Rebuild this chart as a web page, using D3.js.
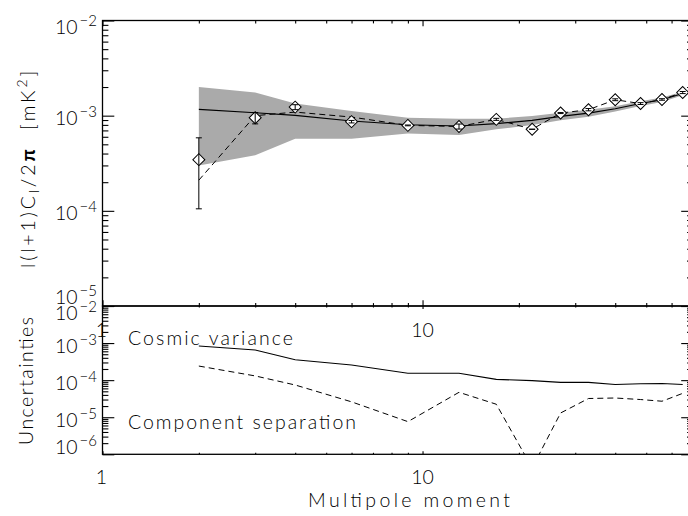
<!DOCTYPE html>
<html>
<head>
<meta charset="utf-8">
<script src="https://cdn.jsdelivr.net/npm/d3@7"></script>
<style>
  body { margin: 0; background: #fff; }
  svg { display: block; }
  text { font-family: Lato, "Liberation Sans", sans-serif; font-weight: 300; fill: #000; }
</style>
</head>
<body>
<svg id="chart" width="688" height="516"></svg>
<script>
// Multipole bins
const ells = [2, 3, 4, 6, 9, 13, 17, 22, 27, 33, 40, 48, 56, 65];
// Recovered power spectrum l(l+1)C_l/2pi [mK^2] (diamonds)
const recovered = [3.45e-4, 9.5e-4, 1.23e-3, 8.65e-4, 7.9e-4, 7.7e-4, 9.15e-4, 7.2e-4, 1.065e-3, 1.156e-3, 1.47e-3, 1.34e-3, 1.48e-3, 1.75e-3];
// Input sky spectrum (dashed)
const inputSpectrum = [2.1e-4, 1.0e-3, 1.09e-3, 9.67e-4, 7.9e-4, 7.7e-4, 9.15e-4, 7.2e-4, 1.065e-3, 1.156e-3, 1.47e-3, 1.34e-3, 1.48e-3, 1.75e-3];
// Theoretical model (solid) and its cosmic-variance envelope (grey band)
const modelElls = [2, 3, 4, 6, 9, 13, 17, 22, 27, 33, 40, 48, 56, 65, 70];
const model     = [1.165e-3, 1.075e-3, 1.007e-3, 8.78e-4, 8.04e-4, 7.78e-4, 8.24e-4, 8.93e-4, 9.83e-4, 1.064e-3, 1.18e-3, 1.34e-3, 1.47e-3, 1.71e-3, 1.84e-3];
const bandHigh  = [2.0e-3, 1.75e-3, 1.34e-3, 1.12e-3, 9.5e-4, 9.3e-4, 9.29e-4, 9.9e-4, 1.07e-3, 1.151e-3, 1.256e-3, 1.42e-3, 1.55e-3, 1.786e-3, 1.92e-3];
const bandLow   = [3.0e-4, 3.83e-4, 5.73e-4, 5.73e-4, 6.5e-4, 6.28e-4, 7.19e-4, 7.96e-4, 8.96e-4, 9.77e-4, 1.104e-3, 1.26e-3, 1.39e-3, 1.634e-3, 1.76e-3];
// Uncertainty budget per bin
const cosmicVariance = [8.3e-4, 6.5e-4, 3.56e-4, 2.57e-4, 1.53e-4, 1.53e-4, 1.05e-4, 9.7e-5, 8.7e-5, 8.7e-5, 7.6e-5, 8.0e-5, 8.1e-5, 7.6e-5];
const componentSeparation = [2.4e-4, 1.3e-4, 7.4e-5, 2.6e-5, 7.6e-6, 4.7e-5, 2.24e-5, 4.3e-7, 1.3e-5, 3.2e-5, 3.3e-5, 3.0e-5, 2.7e-5, 4.4e-5];

// Axis ticks
const xMajorTicks = [1, 10];
const xMinorTicks = [2, 3, 4, 5, 6, 7, 8, 9, 20, 30, 40, 50, 60, 70];
const xTickLabels = ["1", "10"];
const topDecades = [1e-5, 1e-4, 1e-3, 1e-2];
const bottomDecades = [1e-6, 1e-5, 1e-4, 1e-3, 1e-2];

const texts = {
  xTitle: "Multipole moment",
  bottomTitle: "Uncertainties",
  cv: "Cosmic variance",
  cs: "Component separation"
};

const svg = d3.select("#chart");
svg.append("rect").attr("width", 688).attr("height", 516).attr("fill", "#fff");

const x = d3.scaleLog().domain([1, 70]).range([102.5, 693]);
const yTop = d3.scaleLog().domain([1e-5, 1e-2]).range([306, 20.5]);
const yBot = d3.scaleLog().domain([1e-6, 1e-2]).range([454.3, 306]);

const defs = svg.append("defs");
function clip(id, ys) {
  const [x0, x1] = x.range();
  const [yb, yt] = ys.range();
  defs.append("clipPath").attr("id", id).append("rect")
    .attr("x", x0).attr("y", yt).attr("width", x1 - x0).attr("height", yb - yt);
}
clip("clipTop", yTop);
clip("clipBot", yBot);

// ---------- upper panel: power spectrum ----------
const specG = svg.append("g").attr("clip-path", "url(#clipTop)");
const modelRows = modelElls.map((l, i) => ({ l, m: model[i], hi: bandHigh[i], lo: bandLow[i] }));

specG.append("path").datum(modelRows)
  .attr("fill", "#aaaaaa")
  .attr("d", d3.area().x(d => x(d.l)).y0(d => yTop(d.lo)).y1(d => yTop(d.hi)));

specG.append("path").datum(modelRows)
  .attr("fill", "none").attr("stroke", "#000").attr("stroke-width", 1.1)
  .attr("d", d3.line().x(d => x(d.l)).y(d => yTop(d.m)));

const rows = ells.map((l, i) => ({ l, v: recovered[i], inp: inputSpectrum[i], err: componentSeparation[i], cv: cosmicVariance[i] }));

specG.append("path").datum(rows)
  .attr("fill", "none").attr("stroke", "#000").attr("stroke-width", 1)
  .attr("stroke-dasharray", "6,4")
  .attr("d", d3.line().x(d => x(d.l)).y(d => yTop(d.inp)));

specG.selectAll(".pt").data(rows).join("path")
  .attr("class", "pt")
  .attr("d", d3.symbol(d3.symbolSquare, 72))
  .attr("transform", d => `translate(${x(d.l)},${yTop(d.v)}) rotate(45)`)
  .attr("fill", "#fff").attr("stroke", "#000").attr("stroke-width", 1);

const eb = specG.selectAll(".eb").data(rows).join("g").attr("class", "eb")
  .attr("stroke", "#000").attr("stroke-width", 1);
eb.append("line")
  .attr("x1", d => x(d.l)).attr("x2", d => x(d.l))
  .attr("y1", d => yTop(d.v + d.err)).attr("y2", d => yTop(Math.max(d.v - d.err, 1e-6)));
eb.append("line")
  .attr("x1", d => x(d.l) - 3).attr("x2", d => x(d.l) + 3)
  .attr("y1", d => yTop(d.v + d.err)).attr("y2", d => yTop(d.v + d.err));
eb.append("line")
  .attr("x1", d => x(d.l) - 3).attr("x2", d => x(d.l) + 3)
  .attr("y1", d => yTop(Math.max(d.v - d.err, 1e-6))).attr("y2", d => yTop(Math.max(d.v - d.err, 1e-6)));

// ---------- lower panel: uncertainties ----------
const uncG = svg.append("g").attr("clip-path", "url(#clipBot)");
uncG.append("path").datum(rows)
  .attr("fill", "none").attr("stroke", "#000").attr("stroke-width", 1.1)
  .attr("d", d3.line().x(d => x(d.l)).y(d => yBot(d.cv)));
uncG.append("path").datum(rows)
  .attr("fill", "none").attr("stroke", "#000").attr("stroke-width", 1)
  .attr("stroke-dasharray", "6,4")
  .attr("d", d3.line().x(d => x(d.l)).y(d => yBot(d.err)));

// ---------- axes ----------
function yAxes(ys, decades, major, minor, nudge) {
  const all = ys.ticks();
  const minors = all.filter(v => !decades.some(d => Math.abs(v / d - 1) < 1e-6));
  const [x0, x1] = x.range();
  [[d3.axisLeft, x0], [d3.axisRight, x1]].forEach(([ax, xp]) => {
    [[decades, major], [minors, minor]].forEach(([vals, len]) => {
      const g = svg.append("g").attr("transform", `translate(${xp},0)`)
        .call(ax(ys).tickValues(vals).tickSizeInner(-len).tickSizeOuter(0).tickFormat(""));
      g.select(".domain").remove();
      g.selectAll("line").attr("stroke", "#000").attr("stroke-width", 1.1);
    });
  });
  // decade labels: 10^n, kept inside the panel's vertical span
  const [yb, yt] = ys.range();
  decades.forEach(v => {
    const base = Math.min(Math.max(ys(v) + 9.5, yt + nudge[0]), yb + nudge[1]);
    const t = svg.append("text").attr("x", 97).attr("y", base)
      .attr("text-anchor", "end").style("font-size", "19.5px");
    t.append("tspan").text("10");
    t.append("tspan").attr("dy", -8).style("font-size", "15px")
      .attr("dx", 2).text("\u2212" + Math.abs(Math.round(Math.log10(v))));
  });
}

function xAxes(ys, major, minor) {
  const [yb, yt] = ys.range();
  [[d3.axisBottom, yb], [d3.axisTop, yt]].forEach(([ax, yp]) => {
    [[xMajorTicks, major], [xMinorTicks, minor]].forEach(([vals, len]) => {
      const g = svg.append("g").attr("transform", `translate(0,${yp})`)
        .call(ax(x).tickValues(vals).tickSizeInner(-len).tickSizeOuter(0).tickFormat(""));
      g.select(".domain").remove();
      g.selectAll("line").attr("stroke", "#000").attr("stroke-width", 1.1);
    });
  });
}

yAxes(yTop, topDecades, 11.8, 5.9, [13, -2]);
yAxes(yBot, bottomDecades, 11.8, 5.9, [14, 0]);
xAxes(yTop, 5.7, 2.9);
xAxes(yBot, 3, 1.5);

// frames
[yTop, yBot].forEach(ys => {
  const [x0, x1] = x.range();
  const [yb, yt] = ys.range();
  svg.append("rect").attr("x", x0).attr("y", yt).attr("width", x1 - x0).attr("height", yb - yt)
    .attr("fill", "none").attr("stroke", "#000").attr("stroke-width", 1.3);
});

// x tick labels (upper panel's labels sit inside the lower panel)
xMajorTicks.forEach((v, i) => {
  svg.append("text").attr("x", x(v) - (i === 0 ? 1 : 0)).attr("y", 337)
    .attr("text-anchor", "middle").style("font-size", "19.5px").text(xTickLabels[i]);
  svg.append("text").attr("x", x(v) - (i === 0 ? 1 : 0)).attr("y", 484)
    .attr("text-anchor", "middle").style("font-size", "19.5px").text(xTickLabels[i]);
});

// titles
svg.append("text").attr("x", 308).attr("y", 507)
  .attr("textLength", 202).attr("lengthAdjust", "spacing")
  .style("font-size", "19.5px").text(texts.xTitle);

svg.append("text").attr("transform", "translate(33,445) rotate(-90)")
  .attr("textLength", 128).attr("lengthAdjust", "spacing")
  .style("font-size", "19.5px").text(texts.bottomTitle);

const yTitle = svg.append("text").attr("transform", "translate(35,268) rotate(-90)")
  .style("font-size", "19.5px").style("letter-spacing", "2.9px");
yTitle.append("tspan").text("l(l+1)C");
yTitle.append("tspan").attr("dy", 4).style("font-size", "14px").text("l");
yTitle.append("tspan").attr("dy", -4).text("/2");
yTitle.append("tspan").style("font-weight", "700").text("\u03c0");
yTitle.append("tspan").text("\u00a0\u00a0[mK");
yTitle.append("tspan").attr("dy", -8).style("font-size", "14px").text("2");
yTitle.append("tspan").attr("dy", 8).text("]");

svg.append("text").attr("x", 128).attr("y", 345)
  .attr("textLength", 165).attr("lengthAdjust", "spacing")
  .style("font-size", "19.5px").text(texts.cv);
svg.append("text").attr("x", 128).attr("y", 429)
  .attr("textLength", 228).attr("lengthAdjust", "spacing")
  .style("font-size", "19.5px").text(texts.cs);
</script>
</body>
</html>
